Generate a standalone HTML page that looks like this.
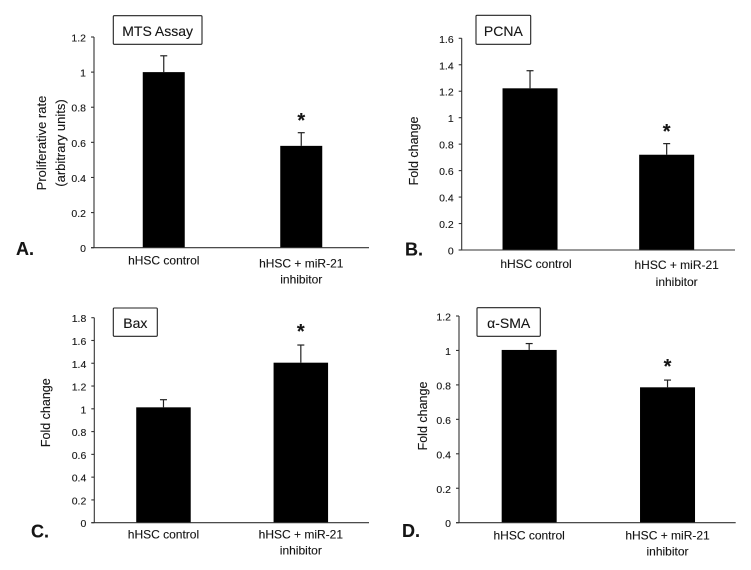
<!DOCTYPE html>
<html>
<head>
<meta charset="utf-8">
<title>hHSC miR-21 inhibitor panels</title>
<style>
html,body{margin:0;padding:0;background:#fff;width:751px;height:570px;overflow:hidden}
svg{display:block;filter:blur(0.35px)}
text{font-family:"Liberation Sans",sans-serif;fill:#151515;stroke:#151515;stroke-width:0.12px}
</style>
</head>
<body>
<svg id="figure" width="751" height="570" viewBox="0 0 751 570" xmlns="http://www.w3.org/2000/svg"></svg>
<script>
const categories = ["hHSC control", ["hHSC + miR-21", "inhibitor"]];

const ticksA = ["0", "0.2", "0.4", "0.6", "0.8", "1", "1.2"];
const valuesA = [1.0, 0.58];
const errorsA = [0.093, 0.075];
const starA = [0.739];

const ticksB = ["0", "0.2", "0.4", "0.6", "0.8", "1", "1.2", "1.4", "1.6"];
const valuesB = [1.222, 0.72];
const errorsB = [0.133, 0.084];
const starB = [0.915];

const ticksC = ["0", "0.2", "0.4", "0.6", "0.8", "1", "1.2", "1.4", "1.6", "1.8"];
const valuesC = [1.013, 1.405];
const errorsC = [0.067, 0.155];
const starC = [1.70];

const ticksD = ["0", "0.2", "0.4", "0.6", "0.8", "1", "1.2"];
const valuesD = [1.003, 0.786];
const errorsD = [0.037, 0.042];
const starD = [0.921];

const panels = [
  {key:"a", letter:"A.", lx:16, ly:255, title:"MTS Assay", box:[113.3,15.7,88.7,28.6], ticks:ticksA, values:valuesA, errors:errorsA, star:starA,
   x0:94, x1:369, top:37, bottom:247.7, shift:1, barW:42, lblDx:0, lblDy:[17,20,36],
   yTitle:["Proliferative rate","(arbitrary units)"], yTitleX:[46,65], yTitleY:143, yTitleSize:13},
  {key:"b", letter:"B.", lx:405, ly:255.7, title:"PCNA", box:[476,15.3,54.7,29], ticks:ticksB, values:valuesB, errors:errorsB, star:starB,
   x0:461.7, x1:735, top:38.3, bottom:250, shift:0, barW:55, lblDx:[6,10], lblDy:[18,19,36],
   yTitle:["Fold change"], yTitleX:[418], yTitleY:151, yTitleSize:12.5},
  {key:"c", letter:"C.", lx:31, ly:537.7, title:"Bax", box:[113.3,308,44,28.3], ticks:ticksC, values:valuesC, errors:errorsC, star:starC,
   x0:94.3, x1:369, top:317.7, bottom:522.7, shift:0.5, barW:54.5, lblDx:0, lblDy:[16,16,32],
   yTitle:["Fold change"], yTitleX:[50], yTitleY:412.7, yTitleSize:12.5},
  {key:"d", letter:"D.", lx:402, ly:537, title:"\u03b1-SMA", box:[477,307.7,63.3,28.6], ticks:ticksD, values:valuesD, errors:errorsD, star:starD,
   x0:459, x1:735.7, top:316, bottom:522.7, shift:1, barW:55, lblDx:[0,0], lblDy:[17,17,33],
   yTitle:["Fold change"], yTitleX:[427], yTitleY:416, yTitleSize:12.5}
];

const svg = document.getElementById("figure");
const NS = "http://www.w3.org/2000/svg";

function mk(tag, attrs, parent, txt) {
  const e = document.createElementNS(NS, tag);
  for (const k in attrs) e.setAttribute(k, attrs[k]);
  if (txt !== undefined) e.textContent = txt;
  parent.appendChild(e);
  return e;
}
function yScale(p, v) {
  const max = parseFloat(p.ticks[p.ticks.length - 1]);
  return p.bottom - (v / max) * (p.bottom - p.top);
}
function xScale(p, i) {
  const band = (p.x1 - p.x0) / p.values.length;
  return p.x0 + band * (i + 0.5) + p.shift;
}
function labelDx(p, i) {
  return Array.isArray(p.lblDx) ? p.lblDx[i] : p.lblDx;
}

panels.forEach(function (p) {
  const g = mk("g", {}, svg);
  
  

  const letter = mk("text", {x:p.lx, y:p.ly, "font-size":18, "font-weight":"bold"}, g, p.letter);
  
  

  const box = mk("rect", {x:p.box[0], y:p.box[1], width:p.box[2], height:p.box[3], rx:1, fill:"#fff", stroke:"#222", "stroke-width":1.1}, g);
  
  

  const title = mk("text", {x:p.box[0] + p.box[2] / 2, y:p.box[1] + p.box[3] / 2 + 6, "font-size":14, "text-anchor":"middle"}, g, p.title);
  
  

  p.values.forEach(function (v, i) {
    const cx = xScale(p, i);
    const yv = yScale(p, v);
    const ye = yScale(p, v + p.errors[i]);

    const stem = mk("line", {x1:cx, x2:cx, y1:yv, y2:ye, stroke:"#222", "stroke-width":1.2}, g);
    
    

    const cap = mk("line", {x1:cx - 3.5, x2:cx + 3.5, y1:ye, y2:ye, stroke:"#222", "stroke-width":1.2}, g);
    
    

    const bar = mk("rect", {x:cx - p.barW / 2, y:yv, width:p.barW, height:p.bottom - yv, fill:"#000"}, g);
    
    

    const lines = Array.isArray(categories[i]) ? categories[i] : [categories[i]];
    lines.forEach(function (line, j) {
      const dy = p.lblDy[i === 0 ? 0 : j + 1];
      const lbl = mk("text", {x:cx + labelDx(p, i), y:p.bottom + dy, "font-size":12, "text-anchor":"middle"}, g, line);
      
      
    });
  });

  const star = mk("text", {x:xScale(p, 1), y:yScale(p, p.star[0]) + 9, "font-size":20, "font-weight":"bold", "text-anchor":"middle"}, g, "*");
  
  

  const yAxis = mk("line", {x1:p.x0, x2:p.x0, y1:p.top, y2:p.bottom, stroke:"#333", "stroke-width":1.1}, g);
  
  

  const xAxis = mk("line", {x1:p.x0 - 3, x2:p.x1, y1:p.bottom, y2:p.bottom, stroke:"#333", "stroke-width":1.1}, g);
  
  

  p.ticks.forEach(function (t) {
    const y = yScale(p, parseFloat(t));
    const mark = mk("line", {x1:p.x0 - 3, x2:p.x0, y1:y, y2:y, stroke:"#333", "stroke-width":1.1}, g);
    
    

    const lbl = mk("text", {x:p.x0 - 8, y:y + 4.5, "font-size":10.5, "text-anchor":"end"}, g, t);
    
    
  });

  p.yTitle.forEach(function (line, i) {
    const x = p.yTitleX[i];
    const yt = mk("text", {x:x, y:p.yTitleY, "font-size":p.yTitleSize, "text-anchor":"middle", transform:"rotate(-90 " + x + " " + p.yTitleY + ")"}, g, line);
    
    
  });
});
</script>
</body>
</html>
